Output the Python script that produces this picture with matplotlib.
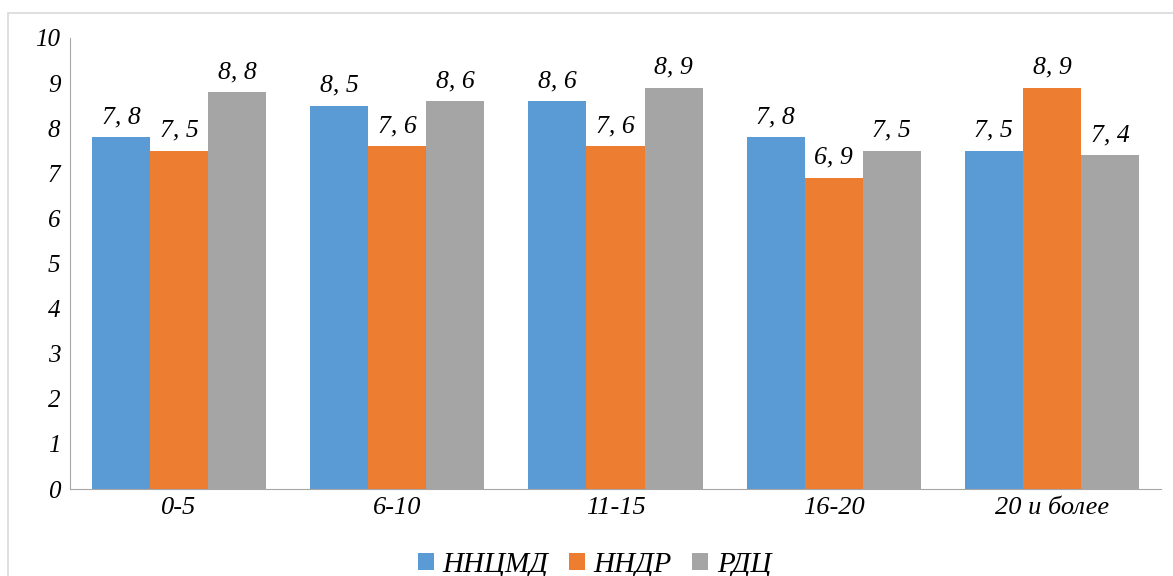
import matplotlib
matplotlib.use('Agg')
import matplotlib.pyplot as plt
from matplotlib.patches import Rectangle
import numpy as np

# Группы по стажу и оценки по трём учреждениям
categories = ['0-5', '6-10', '11-15', '16-20', '20 и более']
series_names = ['ННЦМД', 'ННДР', 'РДЦ']
nncmd = [7.8, 8.5, 8.6, 7.8, 7.5]
nndr = [7.5, 7.6, 7.6, 6.9, 8.9]
rdc = [8.8, 8.6, 8.9, 7.5, 7.4]
y_ticks = [0, 1, 2, 3, 4, 5, 6, 7, 8, 9, 10]

colors = ['#5B9BD5', '#ED7D31', '#A5A5A5']

plt.rcParams['font.family'] = ['Liberation Serif', 'DejaVu Serif']
plt.rcParams['font.style'] = 'italic'

fig = plt.figure(figsize=(11.73, 5.76), dpi=100)
ax = fig.add_axes([70 / 1173, 1 - 489 / 576, (1161 - 70) / 1173, (489 - 38) / 576])

x = np.arange(len(categories))
width = 0.266
for i, (vals, name) in enumerate(zip([nncmd, nndr, rdc], series_names)):
    pos = x + (i - 1) * width
    bars = ax.bar(pos, vals, width, color=colors[i], label=name, zorder=2)
    for b, v in zip(bars, vals):
        ax.text(b.get_x() + b.get_width() / 2, v + 0.2, f'{v:.1f}'.replace('.', ', '),
                ha='center', va='bottom', fontsize=18.5, style='italic')

ax.set_xlim(-0.5, len(categories) - 0.5)
ax.set_ylim(0, 10)
ax.set_yticks(y_ticks)
ax.set_yticklabels([str(t) for t in y_ticks], fontsize=18)
ax.set_xticks(x)
ax.set_xticklabels(categories, fontsize=19)
ax.tick_params(axis='both', length=0)
ax.tick_params(axis='y', pad=7)
ax.tick_params(axis='x', pad=6)

for side in ['top', 'right']:
    ax.spines[side].set_visible(False)
ax.spines['left'].set_color('#a6a6a6')
ax.spines['bottom'].set_color('#a6a6a6')

fig.legend(loc='center', bbox_to_anchor=(0.507, 1 - 565 / 576), ncol=3, frameon=False,
           fontsize=21, handlelength=0.55, handleheight=0.55, handletextpad=0.3,
           columnspacing=0.7)

# рамка вокруг области диаграммы
fig.patches.append(Rectangle((8 / 1173, -0.1), 1.2, 1 - 13 / 576 + 0.1,
                             transform=fig.transFigure, fill=False,
                             edgecolor='#d9d9d9', linewidth=1.2))

fig.savefig('out.png', dpi=100)
